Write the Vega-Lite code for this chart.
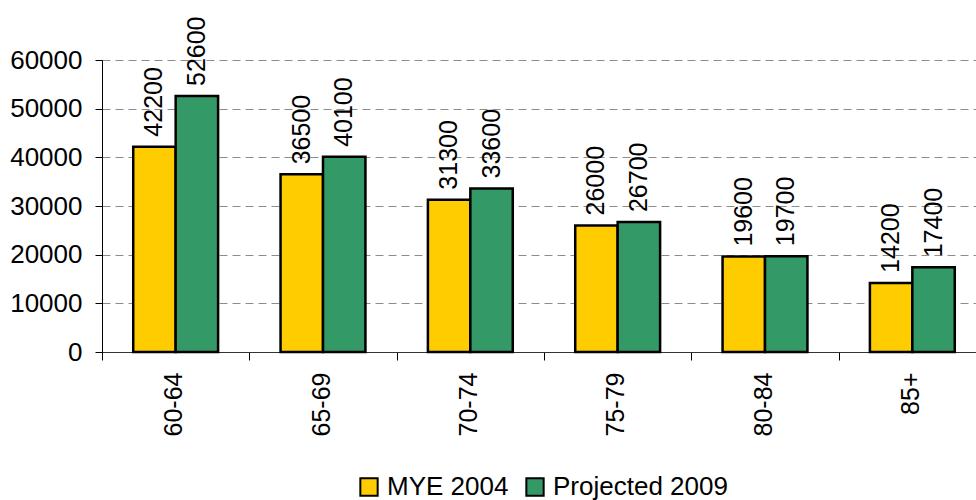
{
  "$schema": "https://vega.github.io/schema/vega-lite/v6.json",
  "width": 884,
  "height": 292,
  "autosize": {"type": "none"},
  "padding": {"left": 102, "top": 60, "right": 0, "bottom": 148},
  "background": "white",
  "config": {
    "font": "Liberation Sans",
    "view": {"stroke": null},
    "axis": {"labelFont": "Liberation Sans", "labelFontSize": 25, "labelColor": "black", "labelOverlap": false}
  },
  "data": {
    "values": [
      {"age": "60-64", "series": "MYE 2004", "value": 42200},
      {"age": "60-64", "series": "Projected 2009", "value": 52600},
      {"age": "65-69", "series": "MYE 2004", "value": 36500},
      {"age": "65-69", "series": "Projected 2009", "value": 40100},
      {"age": "70-74", "series": "MYE 2004", "value": 31300},
      {"age": "70-74", "series": "Projected 2009", "value": 33600},
      {"age": "75-79", "series": "MYE 2004", "value": 26000},
      {"age": "75-79", "series": "Projected 2009", "value": 26700},
      {"age": "80-84", "series": "MYE 2004", "value": 19600},
      {"age": "80-84", "series": "Projected 2009", "value": 19700},
      {"age": "85+", "series": "MYE 2004", "value": 14200},
      {"age": "85+", "series": "Projected 2009", "value": 17400}
    ]
  },
  "encoding": {
    "x": {
      "field": "age", "type": "nominal", "sort": null,
      "scale": {"paddingInner": 0, "paddingOuter": 0},
      "axis": {
        "title": null, "labelAngle": -90, "labelAlign": "right", "labelBaseline": "middle",
        "tickBand": "extent", "tickSize": 8, "tickColor": "black", "domainColor": "#333333",
        "labelPadding": 12, "grid": false, "labelOffset": -2
      }
    },
    "xOffset": {"field": "series", "type": "nominal", "scale": {"paddingInner": 0, "paddingOuter": 0.736}},
    "y": {
      "field": "value", "type": "quantitative",
      "scale": {"domain": [0, 60000], "nice": false},
      "axis": {
        "title": null, "values": [0, 10000, 20000, 30000, 40000, 50000, 60000],
        "format": "d", "tickSize": 7, "tickColor": "black", "domainColor": "black",
        "labelFontSize": 26, "labelPadding": 13, "grid": true, "gridDash": [8, 5], "gridColor": "#8c8c8c", "gridWidth": 1
      }
    }
  },
  "layer": [
    {
      "mark": {"type": "bar", "stroke": "black", "strokeWidth": 2.5},
      "encoding": {
        "color": {
          "field": "series", "type": "nominal",
          "scale": {"domain": ["MYE 2004", "Projected 2009"], "range": ["#FFCC00", "#339966"]},
          "legend": {
            "title": null, "orient": "none", "direction": "horizontal",
            "legendX": 254, "legendY": 414, "padding": 0,
            "symbolType": "square", "symbolSize": 300, "symbolStrokeColor": "black", "symbolStrokeWidth": 2,
            "labelFontSize": 26, "labelFont": "Liberation Sans", "labelColor": "black", "labelLimit": 0,
            "labelOffset": 5, "columnPadding": 13
          }
        }
      }
    },
    {
      "mark": {"type": "text", "angle": -90, "align": "left", "baseline": "middle", "dx": 10, "fontSize": 25, "font": "Liberation Sans", "color": "black"},
      "encoding": {"text": {"field": "value", "type": "quantitative", "format": "d"}}
    }
  ]
}
